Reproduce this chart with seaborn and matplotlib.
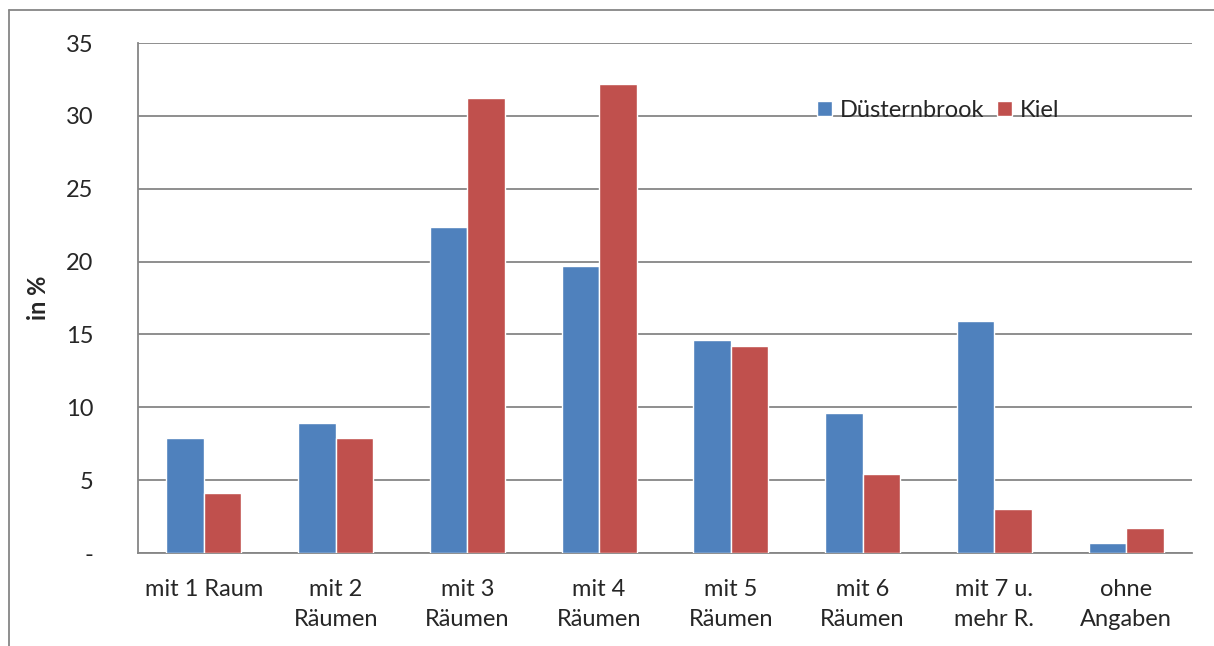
import matplotlib
matplotlib.use("Agg")
import matplotlib.pyplot as plt
import numpy as np
import pandas as pd
import seaborn as sns
from matplotlib.lines import Line2D

# Data
categories = ["mit 1 Raum", "mit 2\nRäumen", "mit 3\nRäumen", "mit 4\nRäumen",
              "mit 5\nRäumen", "mit 6\nRäumen", "mit 7 u.\nmehr R.", "ohne\nAngaben"]
duesternbrook = [7.9, 8.9, 22.4, 19.7, 14.6, 9.6, 15.9, 0.7]
kiel = [4.1, 7.9, 31.2, 32.2, 14.2, 5.4, 3.0, 1.7]
series_names = ["Düsternbrook", "Kiel"]
y_ticks = [0, 5, 10, 15, 20, 25, 30, 35]
y_tick_labels = ["-", "5", "10", "15", "20", "25", "30", "35"]

df = pd.DataFrame({
    "Kategorie": categories * 2,
    "Wert": duesternbrook + kiel,
    "Gebiet": [series_names[0]] * len(categories) + [series_names[1]] * len(categories),
})

sns.set_style("white")
plt.rcParams["font.family"] = ["Lato", "DejaVu Sans"]

fs = 17
grid_col = "#868686"
fig = plt.figure(figsize=(12.14, 6.46), dpi=100)
ax = fig.add_axes([138 / 1214, 1 - 553 / 646, 1054 / 1214, 510 / 646])

sns.barplot(data=df, x="Kategorie", y="Wert", hue="Gebiet", order=categories,
            hue_order=series_names, palette=["#4F81BD", "#C0504D"], width=0.57,
            saturation=1, ax=ax, zorder=3)

ax.set_xlim(-0.5, len(categories) - 0.5)
ax.set_ylim(0, 35)
ax.set_yticks(y_ticks)
ax.set_yticklabels(y_tick_labels, fontsize=fs)
ax.yaxis.grid(True, color=grid_col, linewidth=1.3, zorder=0)
ax.set_axisbelow(True)

# category labels centered, tick marks at the boundaries
ax.set_xticks(np.arange(len(categories)))
ax.set_xticklabels(categories, fontsize=fs, linespacing=1.5)
ax.set_xticks(np.arange(len(categories) + 1) - 0.5, minor=True)
ax.tick_params(axis="x", which="major", length=0, pad=19)
ax.tick_params(axis="x", which="minor", length=7, width=1.3, color=grid_col, direction="out")
ax.tick_params(axis="y", length=8, width=1.3, color=grid_col, direction="out", pad=24)

for side in ["top", "right"]:
    ax.spines[side].set_visible(False)
for side in ["left", "bottom"]:
    ax.spines[side].set_color(grid_col)
    ax.spines[side].set_linewidth(1.3)

ax.set_xlabel("")
ax.set_ylabel("in %", fontsize=fs, fontweight="bold")
ax.yaxis.set_label_coords(-0.0835, 0.5)

ax.legend(loc="center", bbox_to_anchor=(0.759, 0.868), ncol=2, frameon=False,
          fontsize=fs, handlelength=0.65, handleheight=0.65, handletextpad=0.3,
          columnspacing=0.55, borderaxespad=0)

# outer chart frame (only top and left edges are visible in the crop)
fig.add_artist(Line2D([9 / 1214, 1], [1 - 10 / 646, 1 - 10 / 646], transform=fig.transFigure,
                      color=grid_col, linewidth=1.3))
fig.add_artist(Line2D([9 / 1214, 9 / 1214], [0, 1 - 10 / 646], transform=fig.transFigure,
                      color=grid_col, linewidth=1.3))

fig.savefig("out.png", dpi=100)
